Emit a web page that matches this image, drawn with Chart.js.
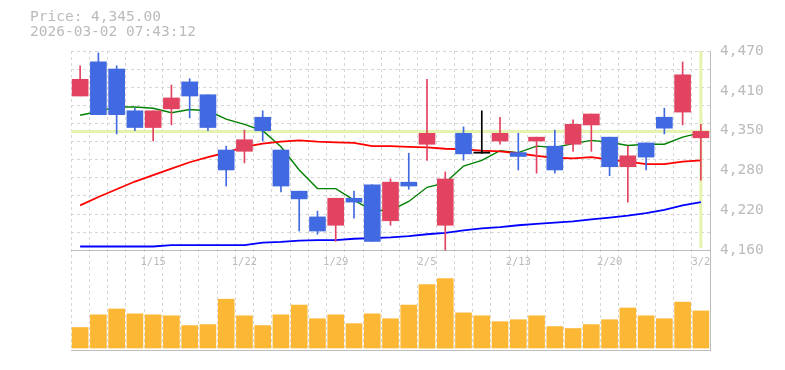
<!DOCTYPE html>
<html>
<head>
<meta charset="utf-8">
<title>Daily candles</title>
<script src="https://cdn.jsdelivr.net/npm/chart.js@4.4.1/dist/chart.umd.min.js"></script>
<style>
  html, body { margin: 0; background: #fff; }
  #wrap { position: relative; width: 785px; height: 370px; }
  #info { position: absolute; left: 30px; top: 9px; font: 14.5px/15px "DejaVu Sans Mono", monospace; color: #bbb; white-space: pre; }
</style>
</head>
<body>
<div id="wrap">
  <canvas id="chart" width="785" height="370"></canvas>
  <div id="info"><div id="priceLine"></div><div id="timeLine"></div></div>
</div>
<script>
// trading days shown, one candle each
const DATES = ["1/8", "1/9", "1/13", "1/14", "1/15", "1/16", "1/19", "1/20", "1/21", "1/22",
  "1/23", "1/26", "1/27", "1/28", "1/29", "1/30", "2/2", "2/3", "2/4", "2/5",
  "2/6", "2/9", "2/10", "2/12", "2/13", "2/16", "2/17", "2/18", "2/19", "2/20",
  "2/24", "2/25", "2/26", "2/27", "3/2"];
const LABELED_DATES = ["1/15", "1/22", "1/29", "2/5", "2/13", "2/20", "3/2"];

const OPEN = [4400, 4453, 4442, 4377, 4351, 4380, 4422, 4402, 4316, 4314,
  4367, 4316, 4252, 4212, 4199, 4241, 4262, 4206, 4266, 4325,
  4199, 4342, 4311, 4330, 4312, 4330, 4322, 4325, 4355, 4336,
  4290, 4327, 4367, 4375, 4335];
const HIGH = [4447, 4467, 4447, 4381, 4377, 4417, 4427, 4402, 4322, 4347,
  4377, 4316, 4252, 4221, 4241, 4252, 4262, 4271, 4311, 4426,
  4282, 4352, 4377, 4367, 4342, 4336, 4347, 4363, 4372, 4336,
  4322, 4327, 4381, 4453, 4356];
const LOW = [4400, 4371, 4341, 4346, 4330, 4355, 4366, 4346, 4260, 4296,
  4330, 4251, 4190, 4185, 4174, 4210, 4174, 4199, 4255, 4300,
  4160, 4300, 4311, 4325, 4285, 4280, 4280, 4314, 4314, 4276,
  4235, 4285, 4341, 4355, 4269];
const CLOSE = [4426, 4371, 4371, 4351, 4377, 4397, 4400, 4351, 4285, 4332,
  4346, 4260, 4240, 4190, 4241, 4235, 4174, 4266, 4260, 4342,
  4271, 4310, 4311, 4342, 4306, 4336, 4285, 4356, 4372, 4290,
  4307, 4305, 4350, 4433, 4345];

// moving averages as drawn (short / mid / long)
const MA_SHORT = [4370, 4376, 4383, 4383, 4381, 4374, 4379, 4377, 4364, 4356,
  4346, 4321, 4285, 4256, 4256, 4238, 4222, 4222, 4236, 4258,
  4265, 4291, 4300, 4315, 4312, 4322, 4320, 4326, 4331, 4328,
  4323, 4325, 4325, 4336, 4343];
const MA_MID = [4230, 4243, 4255, 4267, 4277, 4287, 4297, 4305, 4312, 4321,
  4326, 4329, 4331, 4329, 4328, 4327, 4322, 4322, 4321, 4320,
  4318, 4317, 4315, 4314, 4311, 4307, 4304, 4303, 4305, 4301,
  4298, 4294, 4294, 4298, 4300];
const MA_LONG = [4166, 4166, 4166, 4166, 4166, 4168, 4168, 4168, 4168, 4168,
  4172, 4173, 4175, 4176, 4176, 4178, 4179, 4180, 4182, 4185,
  4187, 4191, 4194, 4196, 4199, 4201, 4203, 4205, 4208, 4211,
  4214, 4218, 4223, 4230, 4235];

// volume, in pane units (pane top = 100)
const VOLUME = [21, 34, 40, 35, 34, 33, 23, 24, 50, 33,
  23, 34, 44, 30, 34, 25, 35, 30, 44, 65,
  71, 36, 33, 27, 29, 33, 22, 20, 24, 29,
  41, 33, 30, 47, 38];

const TICK_VALUES = [4160, 4222, 4284, 4346, 4408, 4470];
const TICK_LABELS = ["4,160", "4,220", "4,280", "4,350", "4,410", "4,470"];

const PRICE_MIN = 4160;
const PRICE_MAX = 4470;
const VOL_MIN = -2;
const VOL_PANE_TOP = 100;
const GRID_DIVISIONS = 11;
const CROSS_INDEX = 34;
const CROSS_PRICE = 4345;
const INFO_TIME = "2026-03-02 07:43:12";

const UP = "#e24360";
const DOWN = "#4169e1";
const FLAT = "#000000";
const GRID = "#d6d6d6";
const FRAME = "#bdbdbd";
const TEXT = "#bbbbbb";

// price pane takes 2/3 of the plot, volume pane the bottom 1/3
const priceAxisMin = PRICE_MIN - (PRICE_MAX - PRICE_MIN) / 2;
const volAxisMax = VOL_MIN + (VOL_PANE_TOP - VOL_MIN) * 3;

document.getElementById("priceLine").textContent =
  "Price: " + CROSS_PRICE.toLocaleString("en-US", { minimumFractionDigits: 2 });
document.getElementById("timeLine").textContent = INFO_TIME;

const candleColors = OPEN.map((o, i) => (CLOSE[i] > o ? UP : CLOSE[i] < o ? DOWN : FLAT));
const bodies = OPEN.map((o, i) => [o, CLOSE[i]]);
const wicks = LOW.map((l, i) => [l, HIGH[i]]);

const crosshair = {
  id: "crosshair",
  beforeDatasetsDraw(chart) {
    const { ctx, chartArea, scales } = chart;
    const x = scales.x.getPixelForValue(CROSS_INDEX);
    const y = scales.y.getPixelForValue(CROSS_PRICE);
    const paneBottom = scales.y.getPixelForValue(PRICE_MIN);
    ctx.save();
    ctx.strokeStyle = "#e4f4b0";
    ctx.lineWidth = 3;
    ctx.beginPath();
    ctx.moveTo(chartArea.left, y);
    ctx.lineTo(chartArea.right, y);
    ctx.moveTo(x, chartArea.top);
    ctx.lineTo(x, paneBottom - 2);
    ctx.stroke();
    ctx.restore();
  },
};

function maLine(data, color, width) {
  return {
    type: "line", data, yAxisID: "y", borderColor: color, borderWidth: width,
    pointRadius: 0, tension: 0, fill: false, order: 5,
  };
}

new Chart(document.getElementById("chart"), {
  type: "bar",
  data: {
    labels: DATES,
    datasets: [
      maLine(MA_LONG, "#0000ff", 1.8),
      maLine(MA_MID, "#ff0000", 1.8),
      maLine(MA_SHORT, "#008000", 1.4),
      { data: wicks, yAxisID: "y", backgroundColor: candleColors, barThickness: 1, grouped: false, borderWidth: 0, order: 3 },
      { data: bodies, yAxisID: "y", backgroundColor: candleColors, barThickness: 16, grouped: false, borderWidth: 0, minBarLength: 1.2, order: 2 },
      { data: VOLUME, yAxisID: "yv", backgroundColor: "#fcb834", barThickness: 16, grouped: false, borderWidth: 0, order: 4 },
    ],
  },
  options: {
    responsive: false,
    animation: false,
    devicePixelRatio: 1,
    layout: { padding: { left: 71, top: 51, right: 0, bottom: 20 } },
    plugins: { legend: { display: false }, tooltip: { enabled: false } },
    scales: {
      x: {
        type: "category", position: "bottom", offset: true,
        grid: { color: GRID, offset: true, drawTicks: false },
        border: { display: true, color: FRAME, dash: [3, 3] },
        ticks: { display: false },
      },
      xl: {
        type: "category", axis: "x", position: { yv: VOL_PANE_TOP }, offset: true,
        grid: { display: false, drawTicks: false },
        border: { display: false },
        ticks: {
          autoSkip: false, maxRotation: 0, padding: 6, color: TEXT,
          font: { family: "'DejaVu Sans Mono', monospace", size: 10.5 },
          callback: (v, i) => (LABELED_DATES.includes(DATES[i]) ? DATES[i] : ""),
        },
      },
      y: {
        type: "linear", position: "right", min: priceAxisMin, max: PRICE_MAX,
        afterBuildTicks: (s) => { s.ticks = TICK_VALUES.map((v) => ({ value: v })); },
        afterFit: (s) => { s.width = 75; },
        grid: { display: false, drawTicks: false },
        border: { display: true, color: FRAME },
        ticks: {
          padding: 10, color: TEXT,
          font: { family: "'DejaVu Sans Mono', monospace", size: 14.5 },
          callback: (v, i) => TICK_LABELS[i],
        },
      },
      yg: {
        type: "linear", position: "left", min: priceAxisMin, max: PRICE_MAX,
        afterBuildTicks: (s) => {
          const step = (PRICE_MAX - PRICE_MIN) / GRID_DIVISIONS;
          s.ticks = [];
          for (let k = 1; k <= GRID_DIVISIONS; k++) s.ticks.push({ value: PRICE_MIN + k * step });
        },
        afterFit: (s) => { s.width = 0; },
        grid: { color: GRID, drawTicks: false },
        border: { display: false, dash: [3, 3] },
        ticks: { display: false },
      },
      yv: {
        type: "linear", position: "left", min: VOL_MIN, max: volAxisMax,
        afterBuildTicks: (s) => { s.ticks = [{ value: VOL_PANE_TOP }]; },
        afterFit: (s) => { s.width = 0; },
        grid: { color: FRAME, drawTicks: false },
        border: { display: false },
        ticks: { display: false },
      },
    },
  },
  plugins: [crosshair],
});
</script>
</body>
</html>
